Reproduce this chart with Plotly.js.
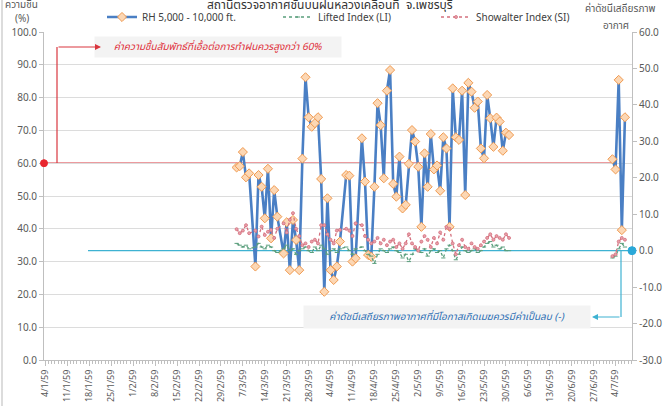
<!DOCTYPE html>
<html>
<head>
<meta charset="utf-8">
<script src="https://cdn.plot.ly/plotly-3.0.1.min.js"></script>
<style>html,body{margin:0;padding:0;background:#fff;}#chart{width:665px;height:406px;}</style>
</head>
<body>
<div id="chart"></div>
<script>
// ---- data ----
const dates = [
 "2016-03-05","2016-03-06","2016-03-07","2016-03-08","2016-03-09","2016-03-11","2016-03-12","2016-03-13","2016-03-14","2016-03-15",
 "2016-03-16","2016-03-17","2016-03-18","2016-03-20","2016-03-21","2016-03-22","2016-03-23","2016-03-24","2016-03-25","2016-03-26",
 "2016-03-27","2016-03-28","2016-03-29","2016-03-30","2016-03-31","2016-04-01","2016-04-02","2016-04-03","2016-04-04","2016-04-05",
 "2016-04-06","2016-04-07","2016-04-09","2016-04-10","2016-04-11","2016-04-12","2016-04-14","2016-04-15","2016-04-16","2016-04-17",
 "2016-04-18","2016-04-19","2016-04-20","2016-04-21","2016-04-22","2016-04-23","2016-04-24","2016-04-25","2016-04-26","2016-04-27",
 "2016-04-28","2016-04-29","2016-04-30","2016-05-01","2016-05-02","2016-05-03","2016-05-04","2016-05-05","2016-05-06","2016-05-07",
 "2016-05-08","2016-05-09","2016-05-10","2016-05-11","2016-05-12","2016-05-13","2016-05-14","2016-05-15","2016-05-16","2016-05-17",
 "2016-05-18","2016-05-19","2016-05-20","2016-05-21","2016-05-22","2016-05-23","2016-05-24","2016-05-25","2016-05-26","2016-05-27",
 "2016-05-28","2016-05-29","2016-05-30","2016-05-31",
 "2016-06-15",
 "2016-07-03","2016-07-04","2016-07-05","2016-07-06","2016-07-07"
];
const rh = [
 58.7,59.1,63.4,55.7,56.9,28.5,56.4,52.8,43.2,58.3,
 37.1,51.8,43.7,32.5,42.0,27.4,42.7,36.6,27.4,61.4,
 86.2,74.0,71.1,72.2,74.0,55.2,20.8,49.3,27.4,24.4,
 28.5,36.1,56.4,56.2,30.0,31.0,67.6,54.4,32.0,31.5,
 52.8,78.3,71.6,55.4,82.1,88.4,53.7,49.8,62.0,46.2,
 47.3,59.8,70.1,66.6,58.9,40.6,63.0,52.8,68.9,58.1,
 59.3,51.6,67.9,64.5,40.6,82.8,67.9,67.1,82.1,50.3,
 84.5,81.8,76.9,78.8,64.5,61.5,80.8,73.7,65.0,73.9,
 72.7,63.8,69.3,68.6,
 null,
 61.2,58.1,85.4,39.6,74.0
];
const li = [
 2.0,1.5,1.0,1.5,0.5,1.0,2.0,1.0,0.5,1.5,
 1.0,0.0,-0.5,0.5,1.5,0.0,0.5,-1.0,0.0,0.5,
 1.0,0.0,-0.5,1.0,0.0,1.5,0.5,-1.0,0.0,0.5,
 -0.5,0.5,1.0,0.0,-1.0,0.5,1.0,0.0,-1.0,-1.5,
 -3.5,-1.0,0.5,0.0,-0.5,0.5,1.0,0.0,-0.5,-2.0,
 -1.0,-3.0,-1.0,0.5,0.0,-0.5,0.5,-1.5,0.0,0.5,
 -0.5,0.0,-2.0,0.5,1.5,0.0,-2.5,-1.0,1.0,0.0,
 -0.5,0.0,0.5,-0.5,0.0,1.0,2.0,2.5,1.0,1.5,
 0.5,1.0,0.0,0.0,
 null,
 -2.0,-1.5,0.5,2.0,1.0
];
const si = [
 5.9,4.8,5.5,7.0,4.8,5.5,3.9,6.6,4.3,5.2,
 5.7,3.5,6.0,7.5,5.0,8.5,10.3,6.0,4.0,1.5,
 2.0,1.0,2.5,3.0,2.0,7.0,7.0,4.5,3.0,2.0,
 5.5,5.7,6.0,5.5,4.0,7.5,7.0,4.0,3.0,2.0,
 2.5,3.5,2.0,3.0,1.5,2.5,3.0,1.0,2.0,0.5,
 2.0,4.5,2.0,1.0,0.0,2.5,4.0,3.0,1.0,3.5,
 2.0,5.0,3.0,6.5,6.0,2.0,-1.0,1.5,3.0,1.0,
 0.5,2.0,1.0,0.5,1.5,2.5,3.5,4.5,3.0,4.0,
 3.5,3.0,4.5,3.5,
 null,
 -1.5,-1.0,2.5,3.5,3.0
];
const tickDates = ["2016-01-04","2016-01-11","2016-01-18","2016-01-25","2016-02-01","2016-02-08","2016-02-15","2016-02-22","2016-02-29",
 "2016-03-07","2016-03-14","2016-03-21","2016-03-28","2016-04-04","2016-04-11","2016-04-18","2016-04-25","2016-05-02","2016-05-09",
 "2016-05-16","2016-05-23","2016-05-30","2016-06-06","2016-06-13","2016-06-20","2016-06-27","2016-07-04"];
const tickLabels = ["4/1/59","11/1/59","18/1/59","25/1/59","1/2/59","8/2/59","15/2/59","22/2/59","29/2/59",
 "7/3/59","14/3/59","21/3/59","28/3/59","4/4/59","11/4/59","18/4/59","25/4/59","2/5/59","9/5/59",
 "16/5/59","23/5/59","30/5/59","6/6/59","13/6/59","20/6/59","27/6/59","4/7/59"];
const seriesNames = ["RH 5,000 - 10,000 ft.","Lifted Index (LI)","Showalter Index (SI)"];
const threshRH = 60;
const threshIndex = 0;

// ---- layout helpers (pixel -> paper) ----
const W = 665, H = 406, ML = 44, MR = 33, MT = 32, MB = 46;
const PW = W - ML - MR, PH = H - MT - MB;
const px = v => (v - ML) / PW;
const py = v => (H - MB - v) / PH;
const FONT = "Tahoma, 'Noto Sans Thai', 'Noto Sans', 'DejaVu Sans', sans-serif";

const traces = [
 {x: dates, y: rh, name: seriesNames[0], type: 'scatter', mode: 'lines+markers', yaxis: 'y', legend: 'legend',
  connectgaps: false,
  line: {color: '#4a7fc4', width: 2.6},
  marker: {symbol: 'diamond', size: 7, color: '#fcd7b4', line: {color: '#f09a50', width: 1}}},
 {x: dates, y: li, name: seriesNames[1], type: 'scatter', mode: 'lines+markers', yaxis: 'y2', legend: 'legend2',
  connectgaps: false,
  line: {color: '#5a9e7c', width: 1.3, dash: 'dot'},
  marker: {symbol: 'line-ew', size: 3, color: '#5a9e7c', line: {color: '#5a9e7c', width: 1}}},
 {x: dates, y: si, name: seriesNames[2], type: 'scatter', mode: 'lines+markers', yaxis: 'y2', legend: 'legend3',
  connectgaps: false,
  line: {color: '#d4707e', width: 1.3, dash: 'dot'},
  marker: {symbol: 'circle', size: 3, color: '#e8a0aa', line: {color: '#d4707e', width: 0.8}}}
];

const legendBase = {orientation: 'h', xref: 'container', yref: 'container', yanchor: 'middle', xanchor: 'left',
  y: 1 - 17 / H, bgcolor: 'rgba(0,0,0,0)',
  font: {family: FONT, size: 10, color: '#404040'}};

const layout = {
 width: W, height: H, autosize: false,
 margin: {l: ML, r: MR, t: MT, b: MB, pad: 0, autoexpand: false},
 paper_bgcolor: '#ffffff', plot_bgcolor: '#ffffff',
 font: {family: FONT, size: 10, color: '#595959'},
 showlegend: true,
 legend: Object.assign({}, legendBase, {x: 102 / W}),
 legend2: Object.assign({}, legendBase, {x: 278 / W}),
 legend3: Object.assign({}, legendBase, {x: 436 / W}),
 xaxis: {type: 'date', range: ['2016-01-03 12:00', '2016-07-09 06:00'], automargin: false,
  tickmode: 'array', tickvals: tickDates, ticktext: tickLabels, tickangle: -90,
  tickfont: {family: FONT, size: 9, color: '#595959'},
  showgrid: false, zeroline: false, showline: true, linecolor: '#bfbfbf', linewidth: 1,
  ticks: 'outside', ticklen: 5, tickcolor: '#bfbfbf',
  minor: {dtick: 86400000, tick0: '2016-01-04', ticks: 'outside', ticklen: 3, tickcolor: '#bfbfbf', showgrid: false}},
 yaxis: {range: [0, 100], dtick: 10, tick0: 0, tickformat: '.1f', automargin: false,
  showgrid: true, gridcolor: '#dcdcdc', gridwidth: 1, zeroline: false,
  showline: true, linecolor: '#bfbfbf', ticks: 'outside', ticklen: 4, tickcolor: '#bfbfbf',
  tickfont: {family: FONT, size: 10, color: '#595959'}},
 yaxis2: {range: [-30, 60], dtick: 10, tick0: 0, tickformat: '.1f', overlaying: 'y', side: 'right', automargin: false,
  showgrid: false, zeroline: false, showline: true, linecolor: '#bfbfbf', ticks: 'outside', ticklen: 4, tickcolor: '#bfbfbf',
  tickfont: {family: FONT, size: 10, color: '#595959'}},
 shapes: [
  // border left edge
  {type: 'line', xref: 'paper', yref: 'paper', x0: px(2), x1: px(2), y0: py(406), y1: py(0), line: {color: '#d0d0d0', width: 1.5}},
  // RH threshold line
  {type: 'line', xref: 'paper', yref: 'y', x0: 0, x1: px(613), y0: threshRH, y1: threshRH, line: {color: '#d9363e', width: 1.2}, layer: 'below'},
  // red bracket vertical
  {type: 'line', xref: 'paper', yref: 'paper', x0: px(57), x1: px(57), y0: py(163), y1: py(47), line: {color: '#d9363e', width: 1.2}},
  // red dot on axis
  {type: 'circle', xref: 'paper', yref: 'y', xsizemode: 'pixel', ysizemode: 'pixel', xanchor: 0, yanchor: threshRH,
   x0: -3.5, x1: 3.5, y0: -3.5, y1: 3.5, fillcolor: '#e8262e', line: {color: '#e8262e', width: 1}},
  // index threshold line
  {type: 'line', xref: 'paper', yref: 'y2', x0: px(88), x1: 1, y0: threshIndex, y1: threshIndex, line: {color: '#3eb2d2', width: 1.2}, layer: 'below'},
  // cyan bracket vertical
  {type: 'line', xref: 'paper', yref: 'paper', x0: px(621), x1: px(621), y0: py(251), y1: py(317), line: {color: '#3eb2d2', width: 1.2}},
  // cyan dot on right axis
  {type: 'circle', xref: 'paper', yref: 'y2', xsizemode: 'pixel', ysizemode: 'pixel', xanchor: 1, yanchor: threshIndex,
   x0: -4, x1: 4, y0: -4, y1: 4, fillcolor: '#2aa8d8', line: {color: '#2aa8d8', width: 1}}
 ],
 annotations: [
  // chart title (partly cut at top, as in the source)
  {xref: 'paper', yref: 'paper', x: px(330), y: py(5), xanchor: 'center', yanchor: 'middle', showarrow: false,
   text: 'สถานีตรวจอากาศชั้นบนฝนหลวงเคลื่อนที่  จ.เพชรบุรี', font: {family: FONT, size: 12, color: '#333333'}},
  // left axis title
  {xref: 'paper', yref: 'paper', x: px(21), y: py(5), xanchor: 'center', yanchor: 'middle', showarrow: false,
   text: 'ความชื้น', font: {family: FONT, size: 10, color: '#595959'}},
  {xref: 'paper', yref: 'paper', x: px(22), y: py(19), xanchor: 'center', yanchor: 'middle', showarrow: false,
   text: '(%)', font: {family: FONT, size: 10, color: '#595959'}},
  // right axis title
  {xref: 'paper', yref: 'paper', x: px(620), y: py(9), xanchor: 'center', yanchor: 'middle', showarrow: false,
   text: 'ค่าดัชนีเสถียรภาพ', font: {family: FONT, size: 10, color: '#595959'}},
  {xref: 'paper', yref: 'paper', x: px(616), y: py(26), xanchor: 'center', yanchor: 'middle', showarrow: false,
   text: 'อากาศ', font: {family: FONT, size: 10, color: '#595959'}},
  // red note box
  {xref: 'paper', yref: 'paper', x: px(218), y: py(47), xanchor: 'center', yanchor: 'middle', showarrow: false,
   width: 244, height: 18, bgcolor: '#f3f3f3', borderpad: 1,
   text: '<i>ค่าความชื้นสัมพัทธ์ที่เอื้อต่อการทำฝนควรสูงกว่า 60%</i>', font: {family: FONT, size: 10, color: '#e0303a'}},
  // red arrow
  {xref: 'paper', yref: 'paper', x: px(101), y: py(47), axref: 'pixel', ayref: 'pixel', ax: -44, ay: 0,
   showarrow: true, arrowhead: 2, arrowsize: 1, arrowwidth: 1.2, arrowcolor: '#d9363e', text: ''},
  // cyan note box
  {xref: 'paper', yref: 'paper', x: px(447), y: py(317), xanchor: 'center', yanchor: 'middle', showarrow: false,
   width: 284, height: 20, bgcolor: '#f3f3f3', borderpad: 1,
   text: '<i>ค่าดัชนีเสถียรภาพอากาศที่มีโอกาสเกิดเมฆควรมีค่าเป็นลบ (-)</i>', font: {family: FONT, size: 10, color: '#2e6fb4'}},
  // cyan arrow
  {xref: 'paper', yref: 'paper', x: px(592), y: py(317), axref: 'pixel', ayref: 'pixel', ax: 29, ay: 0,
   showarrow: true, arrowhead: 2, arrowsize: 1, arrowwidth: 1.2, arrowcolor: '#3eb2d2', text: ''}
 ]
};

Plotly.newPlot('chart', traces, layout, {displayModeBar: false, staticPlot: true});
</script>
</body>
</html>
